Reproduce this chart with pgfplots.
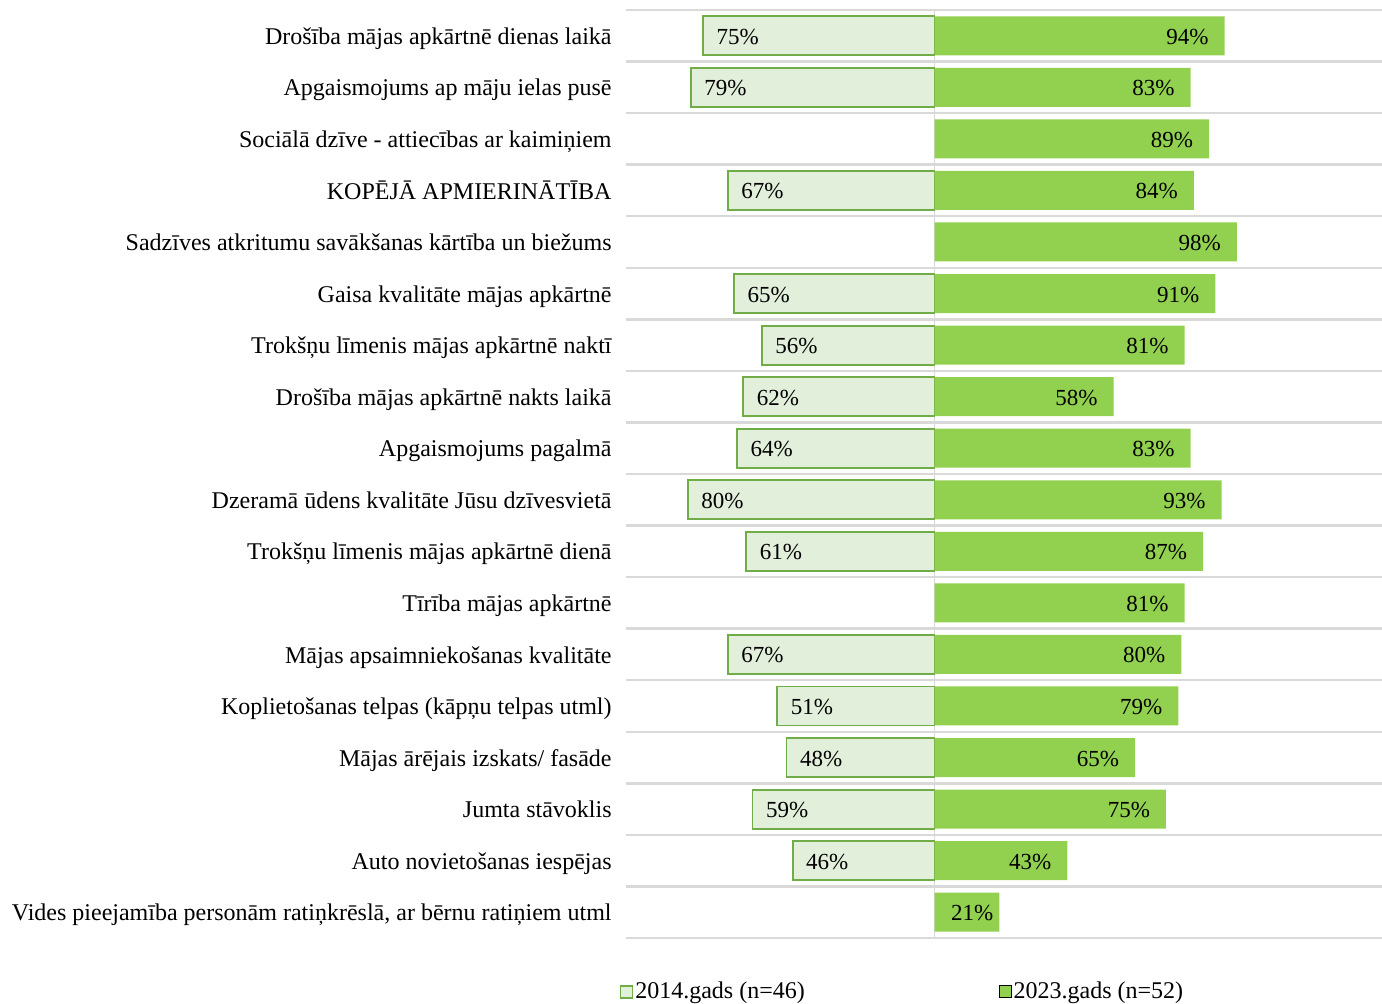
\documentclass[border=0pt]{standalone}
\usepackage{pgfplots}
\pgfplotsset{compat=1.18}
\usepackage{fontspec}
\setmainfont{Liberation Serif}
\definecolor{g23}{HTML}{92D050}
\definecolor{g14}{HTML}{E2EFDA}
\definecolor{g14b}{HTML}{70AD47}
\definecolor{gridc}{HTML}{D9D9D9}
\begin{document}
\begin{tikzpicture}
\begin{axis}[
 name=ax,
 scale only axis, width=378pt, height=464pt,
 xmin=-100, xmax=145, ymin=0.5, ymax=18.5, y dir=reverse,
 xbar, bar width=19.5pt, bar shift=0pt,
 axis line style={draw=none},
 xtick={0}, xticklabels={}, xmajorgrids,
 ytick={1,...,18},
 yticklabels={
  Drošība mājas apkārtnē dienas laikā,
  Apgaismojums ap māju ielas pusē,
  Sociālā dzīve - attiecības ar kaimiņiem,
  KOPĒJĀ APMIERINĀTĪBA,
  Sadzīves atkritumu savākšanas kārtība un biežums,
  Gaisa kvalitāte mājas apkārtnē,
  Trokšņu līmenis mājas apkārtnē naktī,
  Drošība mājas apkārtnē nakts laikā,
  Apgaismojums pagalmā,
  Dzeramā ūdens kvalitāte Jūsu dzīvesvietā,
  Trokšņu līmenis mājas apkārtnē dienā,
  Tīrība mājas apkārtnē,
  Mājas apsaimniekošanas kvalitāte,
  Koplietošanas telpas (kāpņu telpas utml),
  Mājas ārējais izskats/ fasāde,
  Jumta stāvoklis,
  Auto novietošanas iespējas,
  {Vides pieejamība personām ratiņkrēslā, ar bērnu ratiņiem utml}},
 minor ytick={0.5,1.5,...,18.5}, yminorgrids,
 major tick length=0pt, minor tick length=0pt,
 tick style={draw=none},
 major x grid style={gridc, line width=0.75pt},
 minor grid style={gridc, line width=1.25pt},
 yticklabel style={font=\fontsize{12}{14}\selectfont, anchor=base east, inner sep=0pt, xshift=-7pt, yshift=-4.3pt},
 /pgf/number format/assume math mode=true,
 point meta=explicit,
 nodes near coords={\pgfmathprintnumber{\pgfplotspointmeta}\%},
 every node near coord/.append style={font=\fontsize{11.5}{13}\selectfont, text=black, yshift=-0.5pt},
 legend columns=2,
 legend style={draw=none, fill=none, at={(-0.017,-0.058)}, anchor=west,
   font=\fontsize{12}{14}\selectfont,
   /tikz/every even column/.append style={column sep=96pt},
   nodes={inner sep=1pt}},
 legend image code/.code={\draw[#1] (0pt,-3pt) rectangle (6pt,3pt);},
]
\addplot[draw=g14b, fill=g14, line width=0.9pt,
  every node near coord/.append style={anchor=west, xshift=3pt}]
 coordinates {(-75,1)[75] (-79,2)[79] (-67,4)[67] (-65,6)[65] (-56,7)[56]
  (-62,8)[62] (-64,9)[64] (-80,10)[80] (-61,11)[61] (-67,13)[67]
  (-51,14)[51] (-48,15)[48] (-59,16)[59] (-46,17)[46]};
\addplot[draw=none, fill=g23,
  every node near coord/.append style={anchor=east, xshift=-4.5pt},
  coordinate style/.condition={x<30}{xshift=5pt}]
 coordinates {(94,1)[94] (83,2)[83] (89,3)[89] (84,4)[84] (98,5)[98]
  (91,6)[91] (81,7)[81] (58,8)[58] (83,9)[83] (93,10)[93] (87,11)[87]
  (81,12)[81] (80,13)[80] (79,14)[79] (65,15)[65] (75,16)[75]
  (43,17)[43] (21,18)[21]};
\legend{2014.gads (n=46), 2023.gads (n=52)}
\end{axis}
\pgfresetboundingbox
\path[use as bounding box] ([xshift=-313pt,yshift=-33pt]ax.south west) rectangle ([yshift=5pt]ax.north east);
\end{tikzpicture}
\end{document}
